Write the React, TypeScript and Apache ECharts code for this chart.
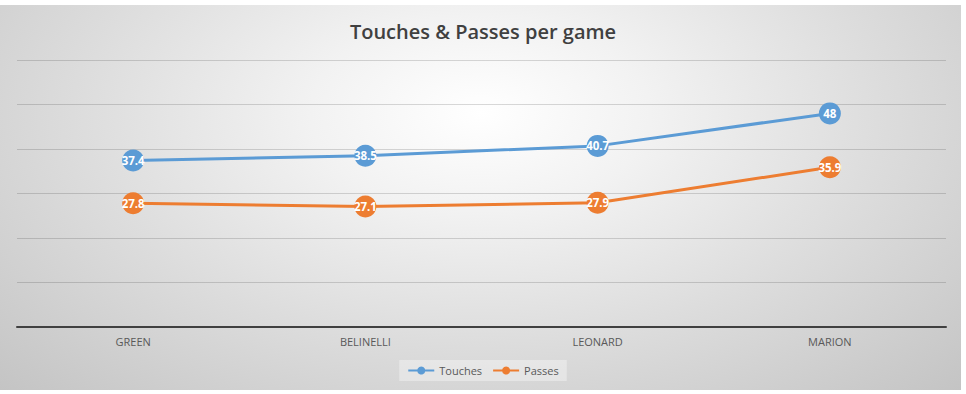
import React, { useEffect, useRef } from "react";
import * as echarts from "echarts";

const categories = ["GREEN", "BELINELLI", "LEONARD", "MARION"];
const touches = [37.4, 38.5, 40.7, 48];
const passes = [27.8, 27.1, 27.9, 35.9];
const titleText = "Touches & Passes per game";

export default function App() {
  const ref = useRef<HTMLDivElement>(null);
  useEffect(() => {
    document.body.style.margin = "0";
    const chart = echarts.init(ref.current!, null, { renderer: "svg" });
    const labelStyle = {
      show: true,
      position: "inside" as const,
      color: "#ffffff",
      fontFamily: "Open Sans",
      fontWeight: "bold" as const,
      fontSize: 11.5,
    };
    chart.setOption({
      animation: false,
      backgroundColor: "transparent",
      title: {
        text: titleText,
        left: "center",
        top: 16,
        textStyle: {
          fontFamily: "Open Sans",
          fontWeight: 600,
          fontSize: 20,
          color: "#404040",
        },
      },
      grid: { left: 17, right: 20, top: 60, bottom: 67 },
      xAxis: {
        type: "category",
        data: categories,
        boundaryGap: true,
        axisLine: { lineStyle: { color: "#404040", width: 2 } },
        axisTick: { show: false },
        axisLabel: {
          color: "#595959",
          fontFamily: "Open Sans",
          fontSize: 11,
          margin: 9,
        },
      },
      yAxis: {
        type: "value",
        min: 0,
        max: 60,
        interval: 10,
        axisLabel: { show: false },
        axisLine: { show: false },
        axisTick: { show: false },
        splitLine: { lineStyle: { color: "rgba(0,0,0,0.15)", width: 1 } },
      },
      legend: {
        bottom: 13,
        left: "center",
        itemWidth: 26,
        itemHeight: 10,
        itemGap: 10,
        padding: [5, 8, 5, 8],
        backgroundColor: "rgba(255,255,255,0.35)",
        textStyle: { color: "#595959", fontFamily: "Open Sans", fontSize: 11 },
        data: ["Touches", "Passes"],
      },
      series: [
        {
          name: "Touches",
          type: "line",
          data: touches,
          symbol: "circle",
          symbolSize: 22,
          itemStyle: { color: "#5b9bd5" },
          lineStyle: { color: "#5b9bd5", width: 3 },
          label: labelStyle,
        },
        {
          name: "Passes",
          type: "line",
          data: passes,
          symbol: "circle",
          symbolSize: 22,
          itemStyle: { color: "#ed7d31" },
          lineStyle: { color: "#ed7d31", width: 3 },
          label: labelStyle,
        },
      ],
    });
    return () => chart.dispose();
  }, []);
  return (
    <div style={{ position: "fixed", left: 0, top: 0, width: 966, height: 394, background: "#ffffff" }}>
      <div
        style={{
          position: "absolute",
          left: 0,
          top: 5,
          width: 961,
          height: 385,
          background: "radial-gradient(ellipse at 50% 28%, #ffffff 0%, #f2f2f2 25%, #dcdcdc 60%, #c4c4c4 100%)",
        }}
      />
      <div ref={ref} style={{ position: "absolute", left: 0, top: 0, width: 966, height: 394 }} />
    </div>
  );
}
